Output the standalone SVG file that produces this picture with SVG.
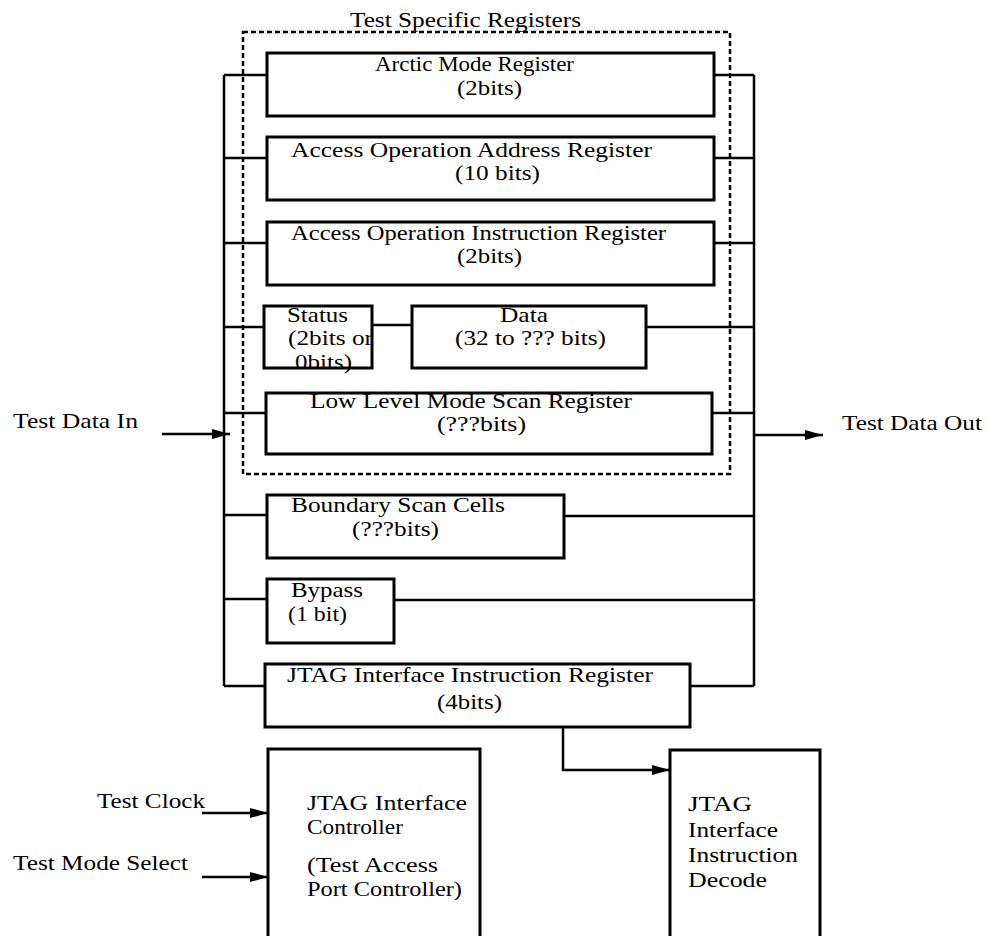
<svg xmlns="http://www.w3.org/2000/svg" width="989" height="936" viewBox="0 0 989 936">
<style>
.box{fill:none;stroke:#000;stroke-width:3}
.ln{fill:none;stroke:#000;stroke-width:2.5}
.dot{fill:none;stroke:#000;stroke-width:2.5;stroke-dasharray:5 3}
text{font-family:"Liberation Serif","Times New Roman",serif;font-size:22px;fill:#000}
</style>
<defs>
<marker id="ah" markerWidth="18" markerHeight="10" refX="18" refY="5" orient="auto" markerUnits="userSpaceOnUse"><path d="M0,0 L18,5 L0,10 z" fill="#000"/></marker>
</defs>
<rect width="989" height="936" fill="#fff"/>

<g id="test-specific-registers">
<rect class="dot" x="243" y="32" width="487" height="442"/>
<text x="350" y="27" textLength="231" lengthAdjust="spacingAndGlyphs">Test Specific Registers</text>
</g>

<g id="arctic-mode-register">
<rect class="box" x="267" y="53" width="447" height="63"/>
<text x="375" y="71" textLength="199" lengthAdjust="spacingAndGlyphs">Arctic Mode Register</text>
<text x="457" y="95" textLength="65" lengthAdjust="spacingAndGlyphs">(2bits)</text>
</g>

<g id="access-op-address-register">
<rect class="box" x="267" y="137" width="447" height="63"/>
<text x="291" y="157" textLength="361" lengthAdjust="spacingAndGlyphs">Access Operation Address Register</text>
<text x="455" y="180" textLength="85" lengthAdjust="spacingAndGlyphs">(10 bits)</text>
</g>

<g id="access-op-instruction-register">
<rect class="box" x="267" y="222" width="447" height="63"/>
<text x="291" y="240" textLength="375" lengthAdjust="spacingAndGlyphs">Access Operation Instruction Register</text>
<text x="457" y="263" textLength="65" lengthAdjust="spacingAndGlyphs">(2bits)</text>
</g>

<g id="status">
<rect class="box" x="264" y="306" width="108" height="62"/>
<text x="287" y="322" textLength="61" lengthAdjust="spacingAndGlyphs">Status</text>
<text x="288" y="345" textLength="85" lengthAdjust="spacingAndGlyphs">(2bits or</text>
<text x="295" y="369" textLength="57" lengthAdjust="spacingAndGlyphs">0bits)</text>
</g>

<g id="data">
<rect class="box" x="412" y="306" width="234" height="62"/>
<text x="500" y="322" textLength="48" lengthAdjust="spacingAndGlyphs">Data</text>
<text x="455" y="345" textLength="151" lengthAdjust="spacingAndGlyphs">(32 to ??? bits)</text>
</g>

<g id="low-level-mode-scan-register">
<rect class="box" x="266" y="393" width="446" height="61"/>
<text x="310" y="408" textLength="322" lengthAdjust="spacingAndGlyphs">Low Level Mode Scan Register</text>
<text x="437" y="431" textLength="89" lengthAdjust="spacingAndGlyphs">(???bits)</text>
</g>

<g id="boundary-scan-cells">
<rect class="box" x="267" y="495" width="297" height="63"/>
<text x="291" y="512" textLength="214" lengthAdjust="spacingAndGlyphs">Boundary Scan Cells</text>
<text x="352" y="536" textLength="87" lengthAdjust="spacingAndGlyphs">(???bits)</text>
</g>

<g id="bypass">
<rect class="box" x="267" y="579" width="127" height="64"/>
<text x="291" y="597" textLength="72" lengthAdjust="spacingAndGlyphs">Bypass</text>
<text x="288" y="621" textLength="59" lengthAdjust="spacingAndGlyphs">(1 bit)</text>
</g>

<g id="jtag-instruction-register">
<rect class="box" x="265" y="664" width="425" height="63"/>
<text x="287" y="682" textLength="366" lengthAdjust="spacingAndGlyphs">JTAG Interface Instruction Register</text>
<text x="437" y="709" textLength="65" lengthAdjust="spacingAndGlyphs">(4bits)</text>
</g>

<g id="jtag-controller">
<path class="box" d="M268,940 L268,749 L480,749 L480,940"/>
<text x="307" y="810" textLength="160" lengthAdjust="spacingAndGlyphs">JTAG Interface</text>
<text x="307" y="834" textLength="96" lengthAdjust="spacingAndGlyphs">Controller</text>
<text x="307" y="872" textLength="131" lengthAdjust="spacingAndGlyphs">(Test Access</text>
<text x="307" y="896" textLength="155" lengthAdjust="spacingAndGlyphs">Port Controller)</text>
</g>

<g id="jtag-decode">
<path class="box" d="M670,940 L670,750 L820,750 L820,940"/>
<text x="688" y="811" textLength="64" lengthAdjust="spacingAndGlyphs">JTAG</text>
<text x="688" y="837" textLength="90" lengthAdjust="spacingAndGlyphs">Interface</text>
<text x="688" y="862" textLength="110" lengthAdjust="spacingAndGlyphs">Instruction</text>
<text x="688" y="887" textLength="79" lengthAdjust="spacingAndGlyphs">Decode</text>
</g>

<g id="labels">
<text x="13" y="428" textLength="125" lengthAdjust="spacingAndGlyphs">Test Data In</text>
<text x="842" y="430" textLength="140" lengthAdjust="spacingAndGlyphs">Test Data Out</text>
<text x="97" y="808" textLength="108" lengthAdjust="spacingAndGlyphs">Test Clock</text>
<text x="13" y="870" textLength="175" lengthAdjust="spacingAndGlyphs">Test Mode Select</text>
</g>

<g id="connectors">
<path class="ln" d="M224,75 L224,686"/>
<path class="ln" d="M754,75 L754,686"/>
<path class="ln" d="M224,75 H267 M224,158 H267 M224,243 H267 M224,327 H264 M224,413 H266 M224,515 H267 M224,599 H267 M224,686 H265"/>
<path class="ln" d="M714,75 H754 M714,158 H754 M714,243 H754 M646,327 H754 M712,413 H754 M564,516 H754 M394,600 H754 M690,686 H754"/>
<path class="ln" d="M372,325 H412"/>
<path class="ln" d="M162,434 H230" marker-end="url(#ah)"/>
<path class="ln" d="M754,435 H823" marker-end="url(#ah)"/>
<path class="ln" d="M202,813 H268" marker-end="url(#ah)"/>
<path class="ln" d="M202,877 H268" marker-end="url(#ah)"/>
<path class="ln" d="M563,727 V770 H670" marker-end="url(#ah)"/>
</g>
</svg>
